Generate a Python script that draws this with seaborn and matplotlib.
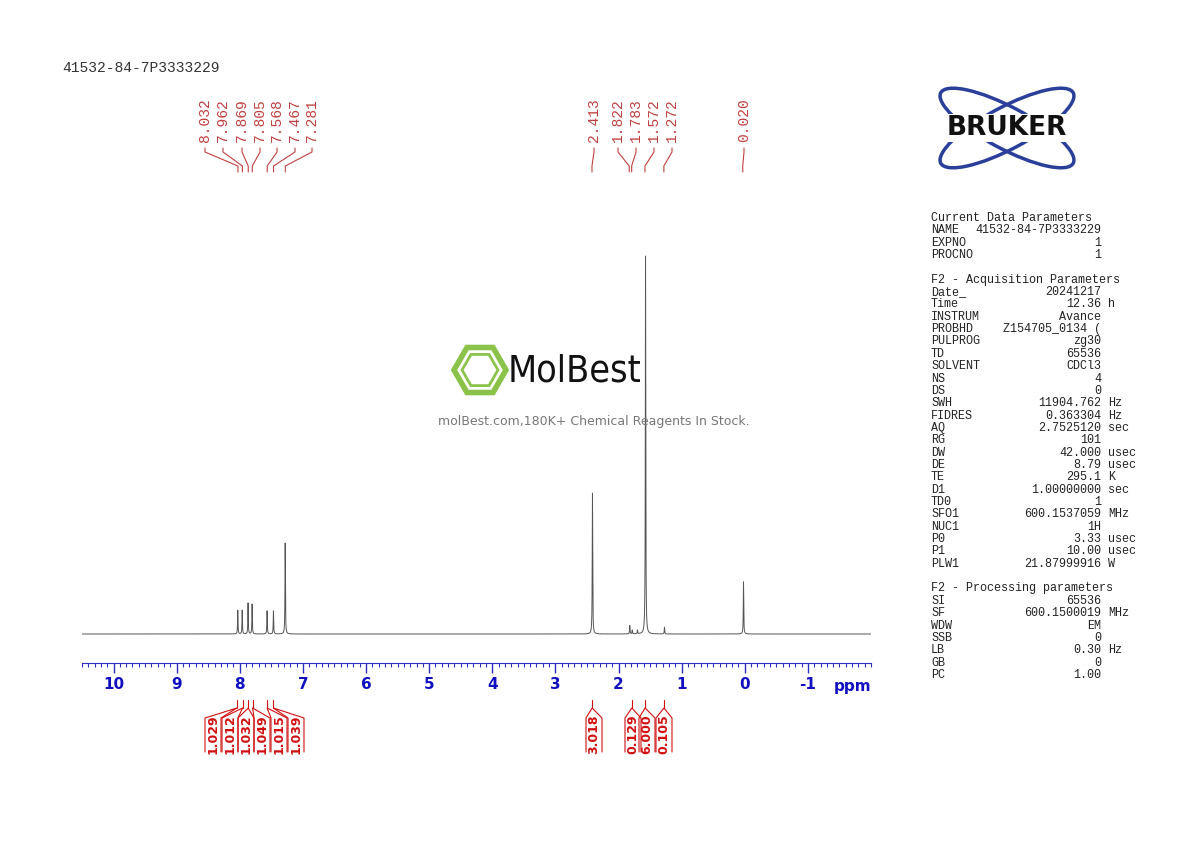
import numpy as np
import matplotlib
matplotlib.use("Agg")
import matplotlib.pyplot as plt
from matplotlib.patches import Ellipse, RegularPolygon
import seaborn as sns

sns.set_style("white")
plt.rcParams['font.family'] = ['DejaVu Sans']

# peaks: shift (ppm), relative height
peak_ppm = [8.032, 7.962, 7.869, 7.805, 7.568, 7.467, 7.281, 2.413, 1.822, 1.783, 1.700, 1.572, 1.272, 0.020]
peak_height = [0.063, 0.063, 0.082, 0.079, 0.061, 0.061, 0.241, 0.373, 0.022, 0.010, 0.010, 1.0, 0.018, 0.138]

# peak labels above spectrum
label_group1 = ['8.032', '7.962', '7.869', '7.805', '7.568', '7.467', '7.281']
label_group2 = ['2.413', '1.822', '1.783', '1.572', '1.272']
label_group3 = ['0.020']

# integrals: position (ppm), value
integral_pos = [8.05, 7.96, 7.87, 7.80, 7.57, 7.47, 2.41, 1.78, 1.57, 1.27]
integral_val = ['1.029', '1.012', '1.032', '1.049', '1.015', '1.039', '3.018', '0.129', '6.000', '0.105']

params = [
    ("Current Data Parameters", ""),
    ("NAME", "41532-84-7P3333229"), ("EXPNO", "1"), ("PROCNO", "1"), ("", ""),
    ("F2 - Acquisition Parameters", ""),
    ("Date_", "20241217"), ("Time", "12.36 h"), ("INSTRUM", "Avance"),
    ("PROBHD", "Z154705_0134 ("), ("PULPROG", "zg30"), ("TD", "65536"),
    ("SOLVENT", "CDCl3"), ("NS", "4"), ("DS", "0"), ("SWH", "11904.762 Hz"),
    ("FIDRES", "0.363304 Hz"), ("AQ", "2.7525120 sec"), ("RG", "101"),
    ("DW", "42.000 usec"), ("DE", "8.79 usec"), ("TE", "295.1 K"),
    ("D1", "1.00000000 sec"), ("TD0", "1"), ("SFO1", "600.1537059 MHz"),
    ("NUC1", "1H"), ("P0", "3.33 usec"), ("P1", "10.00 usec"),
    ("PLW1", "21.87999916 W"), ("", ""),
    ("F2 - Processing parameters", ""),
    ("SI", "65536"), ("SF", "600.1500019 MHz"), ("WDW", "EM"), ("SSB", "0"),
    ("LB", "0.30 Hz"), ("GB", "0"), ("PC", "1.00"),
]

W, H = 1190, 842
fig = plt.figure(figsize=(W / 100, H / 100), dpi=100)
mono = 'Liberation Mono'


def fx(x):
    return x / W


def fy(y):
    return 1 - y / H


# main spectrum axes: x 82..871 px, y 250..663 px
ax = fig.add_axes([fx(82), fy(663), (871 - 82) / W, (663 - 250) / H])
x = np.linspace(10.5, -2.0, 40000)
y = np.zeros_like(x)
w = 0.004
for p, h in zip(peak_ppm, peak_height):
    y += h * w ** 2 / ((x - p) ** 2 + w ** 2)
sns.lineplot(x=x, y=y, ax=ax, color='#555555', lw=0.7, sort=False)
ax.set_xlim(10.5, -2.0)
ax.set_ylim(-0.0767, 1.0159)
for s in ['top', 'left', 'right']:
    ax.spines[s].set_visible(False)
ax.spines['bottom'].set_color('#3030c0')
ax.set_yticks([])
ax.set_xticks(range(10, -2, -1))
ax.set_xticklabels([str(i) for i in range(10, -2, -1)], color='#1010c0',
                   fontsize=11, fontweight='bold')
ax.set_xticks(np.arange(-2.0, 10.51, 0.1), minor=True)
ax.tick_params(axis='x', which='major', bottom=True, length=7, width=1, color='#3030c0',
               direction='out', pad=3)
ax.tick_params(axis='x', which='minor', bottom=True, length=3, width=0.8, color='#3030c0',
               direction='out')
ax.set_xlabel('')
ax.set_ylabel('')
fig.text(fx(853), fy(686), 'ppm', color='#1010c0', fontsize=11, fontweight='bold',
         ha='center', va='center')


def ppm2px(p):
    return 744 - 63 * p


red = '#c04040'
# top peak labels with leader lines
groups = [(label_group1, [205, 223, 242, 260, 277, 295, 312]),
          (label_group2, [594, 618, 636, 654, 672]),
          (label_group3, [744])]
for labels, xs in groups:
    for lab, lx in zip(labels, xs):
        fig.text(fx(lx), fy(120), lab, rotation=90, ha='center', va='center',
                 color=red, fontsize=10.5, family=mono)
        px = ppm2px(float(lab))
        fig.add_artist(plt.Line2D([fx(lx), fx(lx), fx(px), fx(px)],
                                  [fy(148), fy(152), fy(166), fy(172)],
                                  color=red, lw=0.8))

# integrals below the axis
int_x = [213, 230, 246, 262, 279, 296, 594, 633, 647, 664]
for lx, pos, val in zip(int_x, integral_pos, integral_val):
    px = ppm2px(pos)
    fig.text(fx(lx), fy(734), val, rotation=90, ha='center', va='center',
             color='#d01010', fontsize=9, fontweight='bold')
    fig.add_artist(plt.Line2D([fx(lx - 8), fx(lx - 8), fx(px), fx(lx + 8), fx(lx + 8)],
                              [fy(752), fy(718), fy(708), fy(718), fy(752)],
                              color='#d01010', lw=0.8))
    fig.add_artist(plt.Line2D([fx(px), fx(px)], [fy(708), fy(700)], color='#d01010', lw=0.8))

# sample name
fig.text(fx(62), fy(68), '41532-84-7P3333229', fontsize=10.5, color='#333333',
         family=mono, va='center')

# parameter table
units = ('Hz', 'h', 'sec', 'usec', 'K', 'MHz', 'W')
for i, (k, v) in enumerate(params):
    yy = fy(218 + i * 12.35)
    fig.text(fx(931), yy, k, fontsize=8.5, family=mono, color='#222222', va='center')
    if v:
        parts = v.rsplit(' ', 1) if v.split(' ')[-1] in units else [v]
        fig.text(fx(1101), yy, parts[0], fontsize=8.5, family=mono,
                 color='#222222', va='center', ha='right')
        if len(parts) > 1:
            fig.text(fx(1108), yy, parts[1], fontsize=8.5, family=mono,
                     color='#222222', va='center', ha='left')

# Bruker logo
lax = fig.add_axes([fx(920), fy(178), 180 / W, 100 / H])
lax.set_xlim(0, 180)
lax.set_ylim(0, 100)
lax.axis('off')
for ang in (28, -28):
    lax.add_patch(Ellipse((87, 50), 150, 42, angle=ang, fill=False, ec='#2a3f9a', lw=2.5))
lax.text(87, 50, 'BRUKER', fontsize=19, fontweight='black', ha='center', va='center',
         color='#111111', bbox=dict(fc='white', ec='none', pad=0.3))

# MolBest watermark
wax = fig.add_axes([fx(450), fy(400), 220 / W, 60 / H])
wax.set_xlim(0, 220)
wax.set_ylim(0, 60)
wax.set_aspect('equal')
wax.axis('off')
wax.add_patch(RegularPolygon((30, 30), 6, radius=26, orientation=np.pi / 6,
                             fill=False, ec='#8bc34a', lw=4))
wax.add_patch(RegularPolygon((30, 30), 6, radius=18, orientation=np.pi / 6,
                             fill=False, ec='#8bc34a', lw=2))
wax.text(58, 28, 'MolBest', fontsize=27, ha='left', va='center', color='#111111',
         family='DejaVu Sans', fontstretch='condensed')
fig.text(fx(594), fy(421), 'molBest.com,180K+ Chemical Reagents In Stock.', fontsize=9,
         color='#777777', ha='center', va='center')

fig.savefig('out.png', dpi=100)
